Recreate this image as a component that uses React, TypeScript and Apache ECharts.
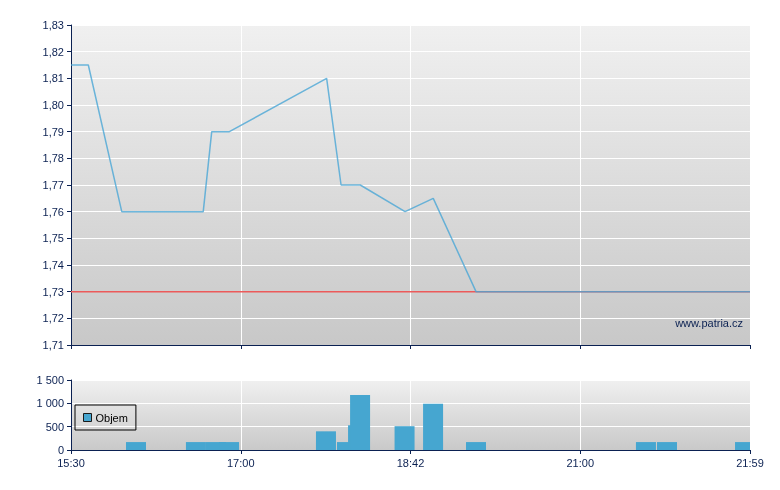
import React, { useEffect, useRef } from "react";
import * as echarts from "echarts";

// x axis positions are in label-slot units: 0 = 15:30, 1 = 17:00, 2 = 18:42, 3 = 21:00, 4 = 21:59
const xTickLabels = ["15:30", "17:00", "18:42", "21:00", "21:59"];

const priceX = [0, 0.102, 0.299, 0.779, 0.829, 0.933, 1.506, 1.591, 1.704, 1.968, 2.134, 2.386, 4];
const priceY = [1.815, 1.815, 1.76, 1.76, 1.79, 1.79, 1.81, 1.77, 1.77, 1.76, 1.765, 1.73, 1.73];

const referencePrice = 1.73;

const volumeX = [0.383, 0.736, 0.854, 0.931, 1.502, 1.626, 1.691, 1.703, 1.965, 2.133, 2.386, 3.387, 3.511];
const volumeY = [170, 170, 170, 170, 400, 170, 530, 1180, 510, 990, 170, 170, 170];

// last bar, cut off by the right edge of the chart
const lastVolumeX = [3.956];
const lastVolumeY = [170];

const legendName = "Objem";
const watermark = "www.patria.cz";

const NAVY = "#0b2152";
const FONT = "Liberation Sans, Arial, sans-serif";

export default function App() {
  const ref = useRef<HTMLDivElement>(null);

  useEffect(() => {
    if (!ref.current) return;
    const chart = echarts.init(ref.current, undefined, { renderer: "svg" });

    const bg = (top: string, bottom: string) =>
      new echarts.graphic.LinearGradient(0, 0, 0, 1, [
        { offset: 0, color: top },
        { offset: 1, color: bottom },
      ]);

    const xCommon = (showLabels: boolean) => ({
      type: "value",
      min: 0,
      max: 4,
      interval: 1,
      axisLine: { show: true, onZero: false, lineStyle: { color: NAVY, width: 1 } },
      axisTick: { show: true, length: 4, lineStyle: { color: NAVY } },
      splitLine: { show: true, lineStyle: { color: "#ffffff", width: 1 } },
      axisLabel: {
        show: showLabels,
        color: NAVY,
        fontFamily: FONT,
        fontSize: 11,
        margin: 7,
        showMinLabel: true,
        showMaxLabel: true,
        formatter: (v: number) => xTickLabels[Math.round(v)] ?? "",
      },
    });

    const priceData = priceX.map((x, i) => [x, priceY[i]]);
    const volumeData = volumeX.map((x, i) => [x, volumeY[i]]);
    const lastVolumeData = lastVolumeX.map((x, i) => [x, lastVolumeY[i]]);

    chart.setOption({
      animation: false,
      textStyle: { fontFamily: FONT },
      grid: [
        {
          left: 71,
          right: 30,
          top: 25,
          height: 320,
          show: true,
          borderWidth: 0,
          backgroundColor: bg("#f0f0f0", "#c8c8c8"),
        },
        {
          left: 71,
          right: 30,
          top: 380,
          height: 70,
          show: true,
          borderWidth: 0,
          backgroundColor: bg("#f0f0f0", "#c9c9c9"),
        },
      ],
      xAxis: [
        { ...xCommon(false), gridIndex: 0 },
        { ...xCommon(true), gridIndex: 1 },
        { type: "value", gridIndex: 1, min: 0, max: 4, show: false, splitLine: { show: false } },
      ],
      yAxis: [
        {
          type: "value",
          gridIndex: 0,
          min: 1.71,
          max: 1.83,
          interval: 0.01,
          axisLine: { show: true, lineStyle: { color: NAVY, width: 1 } },
          axisTick: { show: true, length: 4, lineStyle: { color: NAVY } },
          splitLine: { show: true, lineStyle: { color: "#ffffff", width: 1 } },
          axisLabel: {
            color: NAVY,
            fontFamily: FONT,
            fontSize: 11,
            margin: 7,
            formatter: (v: number) => v.toFixed(2).replace(".", ","),
          },
        },
        {
          type: "value",
          gridIndex: 1,
          min: 0,
          max: 1500,
          interval: 500,
          axisLine: { show: true, lineStyle: { color: NAVY, width: 1 } },
          axisTick: { show: true, length: 4, lineStyle: { color: NAVY } },
          splitLine: { show: true, lineStyle: { color: "#ffffff", width: 1 } },
          axisLabel: {
            color: NAVY,
            fontFamily: FONT,
            fontSize: 11,
            margin: 7,
            formatter: (v: number) => String(Math.round(v)).replace(/\B(?=(\d{3})+(?!\d))/g, " "),
          },
        },
      ],
      legend: {
        show: true,
        data: [legendName],
        left: 75,
        top: 405,
        orient: "horizontal",
        padding: [7, 8, 7, 8],
        borderColor: "#000000",
        borderWidth: 1,
        backgroundColor: "transparent",
        icon: "rect",
        itemWidth: 8,
        itemHeight: 8,
        itemGap: 4,
        itemStyle: { borderColor: "#1a1a1a", borderWidth: 1 },
        textStyle: { color: "#000000", fontFamily: FONT, fontSize: 11, padding: [0, 0, 0, -1] },
        selectedMode: false,
      },
      graphic: [
        {
          type: "text",
          x: 743,
          y: 323,
          z: 100,
          style: {
            text: watermark,
            fill: NAVY,
            font: `11px ${FONT}`,
            textAlign: "right",
            textVerticalAlign: "middle",
          },
        },
      ],
      series: [
        {
          type: "line",
          name: "ref",
          xAxisIndex: 0,
          yAxisIndex: 0,
          data: [
            [0, referencePrice],
            [4, referencePrice],
          ],
          symbol: "none",
          lineStyle: { color: "#ec5a5a", width: 1.5 },
          z: 2,
          silent: true,
        },
        {
          type: "line",
          name: "price",
          xAxisIndex: 0,
          yAxisIndex: 0,
          data: priceData,
          symbol: "none",
          lineStyle: { color: "#4aa6d6", width: 1.5, opacity: 0.8 },
          z: 3,
          silent: true,
        },
        {
          type: "bar",
          name: legendName,
          xAxisIndex: 1,
          yAxisIndex: 1,
          data: volumeData,
          barWidth: 20,
          itemStyle: { color: "#46a6d0" },
          silent: true,
        },
        {
          type: "bar",
          name: legendName,
          xAxisIndex: 2,
          yAxisIndex: 1,
          data: lastVolumeData,
          barWidth: 15,
          itemStyle: { color: "#46a6d0" },
          silent: true,
        },
      ],
    });

    return () => chart.dispose();
  }, []);

  return (
    <div
      ref={ref}
      style={{ position: "fixed", left: 0, top: 0, width: 780, height: 490 }}
    />
  );
}
